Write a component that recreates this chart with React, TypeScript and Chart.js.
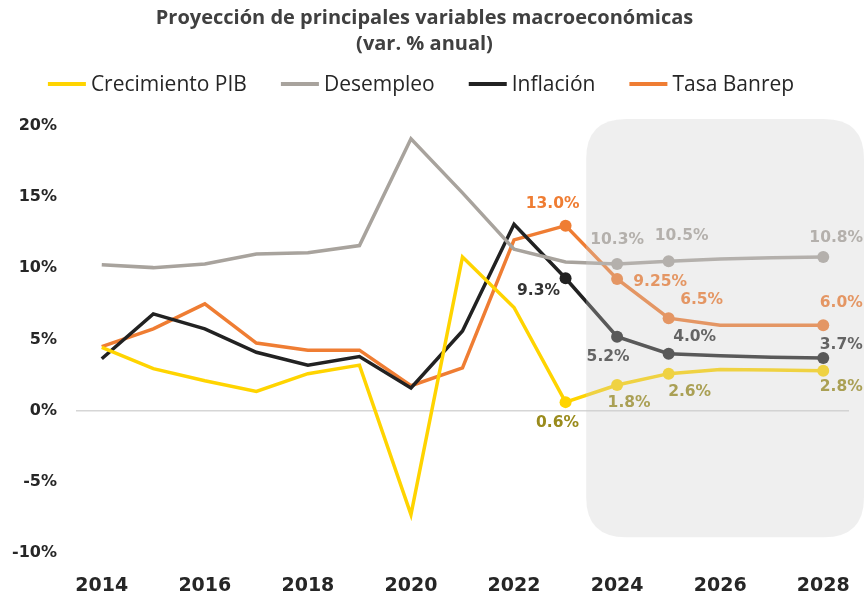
import React, { useEffect, useRef } from "react";
import { Chart, registerables } from "chart.js";

Chart.register(...registerables);

// ---------- data ----------
const years = ["2014", "2015", "2016", "2017", "2018", "2019", "2020", "2021", "2022", "2023", "2024", "2025", "2026", "2027", "2028"];

const crecimientoPIB = [4.45, 2.95, 2.1, 1.35, 2.6, 3.2, -7.3, 10.8, 7.25, 0.6, 1.8, 2.6, 2.9, 2.85, 2.8];
const desempleo = [10.25, 10.05, 10.3, 11.0, 11.1, 11.6, 19.1, 15.3, 11.35, 10.45, 10.3, 10.5, 10.65, 10.75, 10.8];
const inflacion = [3.65, 6.8, 5.75, 4.1, 3.2, 3.8, 1.6, 5.6, 13.1, 9.3, 5.2, 4.0, 3.85, 3.75, 3.7];
const tasaBanrep = [4.5, 5.75, 7.5, 4.75, 4.25, 4.25, 1.75, 3.0, 12.0, 13.0, 9.25, 6.5, 6.0, 6.0, 6.0];

const pibLabels = [null, null, null, null, null, null, null, null, null, "0.6%", "1.8%", "2.6%", null, null, "2.8%"];
const desempleoLabels = [null, null, null, null, null, null, null, null, null, null, "10.3%", "10.5%", null, null, "10.8%"];
const inflacionLabels = [null, null, null, null, null, null, null, null, null, "9.3%", "5.2%", "4.0%", null, null, "3.7%"];
const tasaLabels = [null, null, null, null, null, null, null, null, null, "13.0%", "9.25%", "6.5%", null, null, "6.0%"];

const seriesNames = ["Crecimiento PIB", "Desempleo", "Inflación", "Tasa Banrep"];
const titleLines = ["Proyección de principales variables macroeconómicas", "(var. % anual)"];
const yMin = -10;
const yMax = 20;
const yStep = 5;
const projectionStartIndex = 9.4;

// ---------- styles ----------
const lineColors = ["#FFD400", "#A8A39D", "#222222", "#EF7D33"];
const labelColors = ["#9A8B1C", "#A8A39D", "#333333", "#EF7D33"];
const labelOffsets: Record<number, [number, number]>[] = [
  { 9: [-8, 21], 10: [12, 18], 11: [21, 18], 14: [18, 16] },
  { 10: [0, -24], 11: [13, -25], 14: [13, -19] },
  { 9: [-27, 13], 10: [-9, 20], 11: [26, -17], 14: [18, -13] },
  { 9: [-13, -22], 10: [43, 3], 11: [33, -18], 14: [18, -22] },
];
const allLabels = [pibLabels, desempleoLabels, inflacionLabels, tasaLabels];
const allValues = [crecimientoPIB, desempleo, inflacion, tasaBanrep];

const tickFont = "DejaVu Sans";
const textFont = "Open Sans";

const overlayPlugin = {
  id: "projectionOverlay",
  afterDatasetsDraw(chart: any) {
    const { ctx } = chart;
    const xs = chart.scales.x;
    const ys = chart.scales.y;
    // data labels
    ctx.save();
    ctx.font = `bold 15.5px "${tickFont}"`;
    ctx.textAlign = "center";
    ctx.textBaseline = "middle";
    allLabels.forEach((labels, s) => {
      labels.forEach((txt, i) => {
        if (!txt) return;
        const off = labelOffsets[s][i] || [0, -18];
        const px = xs.getPixelForValue(i);
        const py = ys.getPixelForValue(allValues[s][i]);
        ctx.fillStyle = labelColors[s];
        ctx.fillText(txt, px + off[0], py + off[1]);
      });
    });
    ctx.restore();

    // shaded projection area
    const left = xs.getPixelForValue(projectionStartIndex);
    const right = chart.width;
    const top = ys.getPixelForValue(20.5);
    const bottom = ys.getPixelForValue(-8.9);
    const r = 40;
    ctx.save();
    ctx.fillStyle = "rgba(205,205,205,0.32)";
    ctx.beginPath();
    ctx.moveTo(left + r, top);
    ctx.lineTo(right - r, top);
    ctx.quadraticCurveTo(right, top, right, top + r);
    ctx.lineTo(right, bottom - r);
    ctx.quadraticCurveTo(right, bottom, right - r, bottom);
    ctx.lineTo(left + r, bottom);
    ctx.quadraticCurveTo(left, bottom, left, bottom - r);
    ctx.lineTo(left, top + r);
    ctx.quadraticCurveTo(left, top, left + r, top);
    ctx.closePath();
    ctx.fill();
    ctx.restore();
  },
  afterDraw(chart: any) {
    // legend
    const { ctx } = chart;
    ctx.save();
    ctx.font = `21px "${textFont}"`;
    ctx.textBaseline = "middle";
    ctx.textAlign = "left";
    const sw = 38;
    const gap = 5;
    const itemGap = 34;
    const widths = seriesNames.map((n) => ctx.measureText(n).width);
    const total = widths.reduce((a, b) => a + b, 0) + seriesNames.length * (sw + gap) + (seriesNames.length - 1) * itemGap;
    let x = 421 - total / 2;
    const y = 84;
    seriesNames.forEach((n, i) => {
      ctx.fillStyle = lineColors[i];
      ctx.fillRect(x, y - 2, sw, 4);
      x += sw + gap;
      ctx.fillStyle = "#262626";
      ctx.fillText(n, x, y + 1);
      x += widths[i] + itemGap;
    });
    ctx.restore();
  },
};

export default function App() {
  const ref = useRef<HTMLCanvasElement | null>(null);

  useEffect(() => {
    document.body.style.margin = "0";
    if (!ref.current) return;
    const datasets = allValues.map((vals, s) => ({
      label: seriesNames[s],
      data: vals,
      borderColor: lineColors[s],
      backgroundColor: lineColors[s],
      borderWidth: 3.5,
      pointRadius: allLabels[s].map((l) => (l ? 6 : 0)),
      pointBackgroundColor: lineColors[s],
      pointBorderWidth: 0,
      pointHoverRadius: 0,
      tension: 0,
      fill: false,
    }));
    const chart = new Chart(ref.current, {
      type: "line",
      data: { labels: years, datasets },
      options: {
        animation: false,
        responsive: false,
        layout: { padding: { left: 0, right: 15, top: 0, bottom: 0 } },
        plugins: {
          legend: { display: false },
          tooltip: { enabled: false },
          title: {
            display: true,
            text: titleLines,
            color: "#404040",
            font: { family: textFont, weight: "bold", size: 20, lineHeight: 1.3 },
            padding: { top: 5, bottom: 69 },
          },
        },
        scales: {
          x: {
            type: "category",
            offset: true,
            grid: { display: false, drawTicks: false },
            border: { display: false },
            ticks: {
              autoSkip: false,
              maxRotation: 0,
              padding: 22,
              color: "#262626",
              font: { family: tickFont, weight: "bold", size: 19 },
              callback: (_v: any, i: number) => (i % 2 === 0 ? years[i] : ""),
            },
            afterFit: (s: any) => {
              s.height = 46;
              s.paddingLeft = 0;
              s.paddingRight = 0;
            },
          },
          y: {
            min: yMin,
            max: yMax,
            border: { display: false },
            grid: {
              drawTicks: false,
              lineWidth: 1.5,
              color: (c: any) => (c.tick && c.tick.value === 0 ? "#D6D6D6" : "rgba(0,0,0,0)"),
            },
            ticks: {
              stepSize: yStep,
              padding: 19,
              color: "#262626",
              font: { family: tickFont, weight: "bold", size: 16 },
              callback: (v: any) => `${v}%`,
            },
            afterFit: (s: any) => {
              s.width = 76;
            },
          },
        },
      },
      plugins: [overlayPlugin],
    });
    return () => chart.destroy();
  }, []);

  return (
    <div style={{ width: 864, height: 599 }}>
      <canvas ref={ref} width={864} height={599} style={{ display: "block" }} />
    </div>
  );
}
